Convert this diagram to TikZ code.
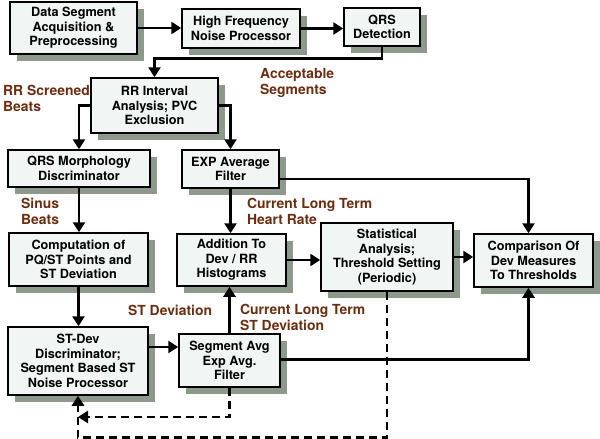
\documentclass[tikz,border=0pt]{standalone}
\usepackage{fontspec}
\setmainfont{TeX Gyre Heros}
\usetikzlibrary{arrows.meta,shadows,calc}

\definecolor{boxfill}{HTML}{F1F6F4}
\definecolor{shadowgray}{HTML}{8C998C}
\definecolor{notebrown}{HTML}{6B2D10}

\tikzset{
  block/.style 2 args={draw, line width=1.5pt, fill=boxfill, align=center, inner sep=0pt,
    minimum width=#1pt, minimum height=#2pt,
    font=\fontsize{12.7}{14.5}\selectfont\bfseries,
    drop shadow={shadow xshift=7pt, shadow yshift=-7pt, fill=shadowgray, opacity=1}},
  note/.style={text=notebrown, align=left, inner sep=0pt, anchor=north west,
    font=\fontsize{13.9}{16}\selectfont\bfseries},
  flow/.style={line width=2.7pt, -{Triangle[length=10pt,width=12pt]}},
  back/.style={flow, dash pattern=on 8pt off 5pt}
}

\begin{document}
\begin{tikzpicture}[x=1pt,y=-1pt]
        \useasboundingbox (0,0) rectangle (600,439);
        \node[block={127}{52}] (acq) at (73.5,28) {Data Segment\\Acquisition \&\\Preprocessing};
        \node[block={118}{39}] (hfnp) at (241,28.5) {High Frequency\\Noise Processor};
        \node[block={76}{38}] (qrsdet) at (382,27) {QRS\\Detection};
        \node[block={127}{55}] (rrint) at (154.5,105.5) {RR Interval\\Analysis; PVC\\Exclusion};
        \node[block={142}{37}] (morph) at (79,168.5) {QRS Morphology\\Discriminator};
        \node[block={97}{38}] (expavg) at (230.5,169) {EXP Average\\Filter};
        \node[block={139}{53}] (stcomp) at (78.5,259.5) {Computation of\\PQ/ST Points and\\ST Deviation};
        \node[block={109}{52}] (hist) at (231.5,260) {Addition To\\Dev / RR\\Histograms};
        \node[block={132}{68}] (stat) at (387,257) {Statistical\\Analysis;\\Threshold Setting\\(Periodic)};
        \node[block={119}{53}] (compare) at (533.5,260.5) {Comparison Of\\Dev Measures\\To Thresholds};
        \node[block={140}{68}] (stdev) at (78,361) {ST-Dev\\Discriminator;\\Segment Based ST\\Noise Processor};
        \node[block={101}{53}] (segavg) at (229.5,360.5) {Segment Avg\\Exp Avg.\\Filter};

        \draw[flow] (acq.east) -- (acq.east -| hfnp.west);
        \draw[flow] (hfnp.east) -- (hfnp.east -| qrsdet.west);
        \draw[flow] (qrsdet.south) -- ++(0,12) -| (rrint.north);
        \draw[flow] (rrint.west) -| (morph.north);
        \draw[flow] (rrint.east) -| (expavg.north);
        \draw[flow] (morph.south) -- (morph.south |- stcomp.north);
        \draw[flow] (expavg.south) -- (expavg.south |- hist.north);
        \draw[flow] ([yshift=-10pt]expavg.east) -| ([xshift=-5pt]compare.north);
        \draw[flow] (hist.east) -- (hist.east -| stat.west);
        \draw[flow] (stat.east) -- (stat.east -| compare.west);
        \draw[flow] (stcomp.south) -- (stcomp.south |- stdev.north);
        \draw[flow] ([yshift=14pt]stdev.east) -- ([yshift=14pt]stdev.east -| segavg.west);
        \draw[flow] (segavg.north) -- (segavg.north |- hist.south);
        \draw[flow] ([yshift=1pt]segavg.east) -| ([xshift=-5pt]compare.south);
        \coordinate (loopin) at (78,417);
        \draw[back] (segavg.south) |- (loopin);
        \draw[back] (stat.south) -- ++(0,146) -| (stdev.south);

        \node[note] (rrbeats) at (3,85) {RR Screened\\Beats};
        \node[note] (accseg) at (260,68) {Acceptable\\Segments};
        \node[note] (sinus) at (21,198) {Sinus\\Beats};
        \node[note] (hrate) at (247,198) {Current Long Term\\Heart Rate};
        \node[note] (stdevlab) at (128,305) {ST Deviation};
        \node[note] (ltstdev) at (240,304) {Current Long Term\\ST Deviation};
\end{tikzpicture}
\end{document}
